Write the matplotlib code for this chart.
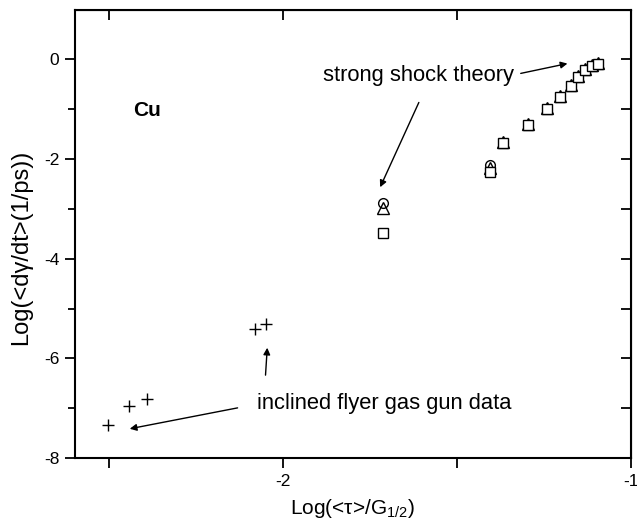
import matplotlib
matplotlib.use("Agg")
import matplotlib.pyplot as plt

plt.rcParams['font.family'] = ['Liberation Sans', 'DejaVu Sans']
plt.rcParams['mathtext.default'] = 'regular'

# gas gun data (crosses)
gun_x = [-2.505, -2.442, -2.392, -2.080, -2.048]
gun_y = [-7.33, -6.95, -6.81, -5.42, -5.31]

# strong shock theory: squares
sq_x = [-1.713, -1.404, -1.367, -1.295, -1.242, -1.203, -1.173, -1.151, -1.131, -1.111, -1.094]
sq_y = [-3.49, -2.26, -1.68, -1.32, -1.00, -0.76, -0.54, -0.36, -0.22, -0.14, -0.10]
# triangles
tri_x = [-1.713, -1.404, -1.367, -1.295, -1.242, -1.203, -1.173, -1.151, -1.131, -1.111, -1.094]
tri_y = [-2.99, -2.19, -1.66, -1.30, -0.98, -0.74, -0.52, -0.34, -0.20, -0.12, -0.08]
# circles
cir_x = [-1.713, -1.404]
cir_y = [-2.89, -2.12]

fig = plt.figure(figsize=(6.37, 5.31), dpi=100)
ax = fig.add_axes([0.117, 0.137, 0.873, 0.844])

ax.plot(gun_x, gun_y, linestyle='none', marker='+', color='black', ms=8, mew=1.0)
ax.plot(cir_x, cir_y, linestyle='none', marker='o', mfc='none', mec='black', ms=7, mew=1.0)
ax.plot(tri_x, tri_y, linestyle='none', marker='^', mfc='none', mec='black', ms=8, mew=1.0)
ax.plot(sq_x, sq_y, linestyle='none', marker='s', mfc='white', mec='black', ms=7, mew=1.0)

ax.set_xlim(-2.6, -1.0)
ax.set_ylim(-8, 0.98)
ax.set_xticks([-2, -1])
ax.set_xticklabels(['-2', '-1'])
ax.set_xticks([-2.5, -1.5], minor=True)
ax.set_yticks([-8, -6, -4, -2, 0])
ax.set_yticklabels(['-8', '-6', '-4', '-2', '0'])
ax.set_yticks([-7, -5, -3, -1], minor=True)

for s in ax.spines.values():
    s.set_linewidth(1.5)
ax.tick_params(which='major', direction='out', length=7, width=1.3, labelsize=12.5, pad=4)
ax.tick_params(which='minor', direction='out', length=5, width=1.3)
ax.tick_params(axis='x', which='minor', length=7)

# mirrored inward ticks on top and right
axt = ax.secondary_xaxis('top')
axt.set_xticks([-2.5, -2, -1.5, -1])
axt.tick_params(direction='in', length=7, width=1.3, labeltop=False)
axr = ax.secondary_yaxis('right')
axr.set_yticks([-8, -7, -6, -5, -4, -3, -2, -1, 0])
axr.tick_params(direction='in', length=7, width=1.3, labelright=False)

ax.set_xlabel('Log(<τ>/G$_{1/2}$)', fontsize=15, labelpad=6)
ax.set_ylabel('Log(<dγ/dt>(1/ps))', fontsize=17)
ax.yaxis.set_label_coords(-0.077, 0.47)

ax.text(-2.431, -1.04, 'Cu', fontsize=15, fontweight='bold', va='center', ha='left')
ax.text(-1.335, -0.34, 'strong shock theory', fontsize=15.8, va='center', ha='right')
ax.text(-2.074, -6.91, 'inclined flyer gas gun data', fontsize=15.8, va='center', ha='left')

arrow = dict(arrowstyle='-|>', color='black', lw=1.0, mutation_scale=10)
ax.annotate('', xy=(-1.174, -0.08), xytext=(-1.324, -0.30), arrowprops=arrow)
ax.annotate('', xy=(-1.724, -2.62), xytext=(-1.606, -0.82), arrowprops=arrow)
ax.annotate('', xy=(-2.449, -7.42), xytext=(-2.123, -6.98), arrowprops=arrow)
ax.annotate('', xy=(-2.045, -5.73), xytext=(-2.051, -6.39), arrowprops=arrow)

fig.savefig('out.png', dpi=100)
